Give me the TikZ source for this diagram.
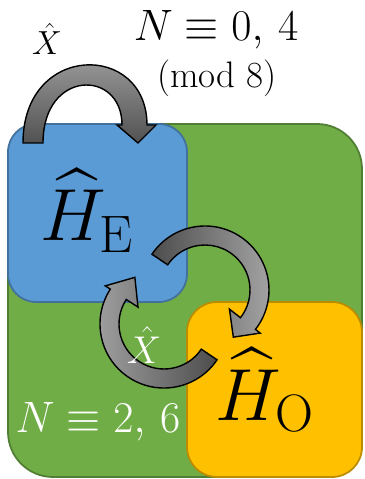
\RequirePackage{fix-cm}
\documentclass[tikz,border=0pt]{standalone}
\usepackage{amsmath,amssymb}
\usepackage{xcolor,tikz}
\definecolor{bggreen}{HTML}{70AD47}\definecolor{bggreenrim}{HTML}{507E32}
\definecolor{evenblue}{HTML}{5B9BD5}\definecolor{evenbluerim}{HTML}{41719C}
\definecolor{oddgold}{HTML}{FFC000}\definecolor{oddgoldrim}{HTML}{BC8C00}
\begin{document}
\begin{tikzpicture}[x=0.2mm,y=-0.2mm,
  panel/.style={line width=1pt},
  blockarr/.style={draw=black,line width=0.8pt},
  lbl/.style={inner sep=0pt,anchor=base}]
\useasboundingbox (0,0) rectangle (364,479);
% sectors
\draw[panel,rounded corners=9mm,fill=bggreen,draw=bggreenrim] (8,124) rectangle (362,477);
\draw[panel,rounded corners=5.6mm,fill=evenblue,draw=evenbluerim] (8,124) rectangle (187,302);
\draw[panel,rounded corners=6mm,fill=oddgold,draw=oddgoldrim] (187,302) rectangle (362,477);
% X-hat on the even sector
\shadedraw[blockarr,top color=black!35,bottom color=black!68] (23,143) .. controls (23,42) and (147,42) .. (147,125)
  -- (156,125) -- (138,143) -- (117,125) -- (122,125) .. controls (122,69) and (43,69) .. (43,143) -- cycle;
% exchange between the sectors
\coordinate (ringA) at (205,290); \coordinate (ringB) at (164,324);
\begin{scope}[shift={(ringA)}]
\shadedraw[blockarr,left color=black!70,right color=black!36] (214:64) arc[start angle=214,end angle=398,radius=64]
  -- (38:70) -- (59:55) -- (38:31) -- (38:45) arc[start angle=398,end angle=214,radius=45] -- cycle;
\end{scope}
\begin{scope}[shift={(ringB)}]
\shadedraw[blockarr,left color=black!36,right color=black!70] (34:64) arc[start angle=34,end angle=213,radius=64]
  -- (213:70) -- (238:55) -- (213:31) -- (213:45) arc[start angle=213,end angle=34,radius=45] -- cycle;
\end{scope}
% labels
\node[lbl] (xtop) at (47,55) {\fontsize{19}{21}\selectfont$\hat{X}$};
\node[lbl] (ntop) at (216,41) {\fontsize{25}{28}\selectfont$N\equiv 0,\,4$};
\node[lbl] (nmod) at (217,88) {\fontsize{21}{24}\selectfont(mod 8)};
\node[lbl] (he) at (87,241) {\fontsize{42}{48}\selectfont$\widehat{H}_{\mbox{\fontsize{30}{32}\selectfont E}}$};
\node[lbl] (ho) at (265,420) {\fontsize{42}{48}\selectfont$\widehat{H}_{\mbox{\fontsize{30}{32}\selectfont O}}$};
\node[lbl,text=white] (xmid) at (144,363) {\fontsize{22}{24}\selectfont$\hat{X}$};
\node[lbl,text=white] (nbot) at (98,432) {\fontsize{25}{28}\selectfont$N\equiv 2,\,6$};
\end{tikzpicture}
\end{document}
